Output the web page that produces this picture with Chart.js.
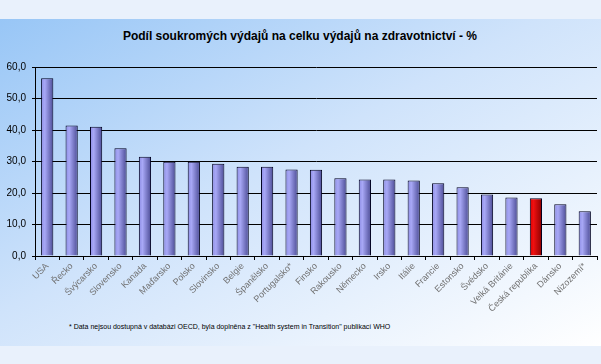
<!DOCTYPE html>
<html>
<head>
<meta charset="utf-8">
<script src="https://cdn.jsdelivr.net/npm/chart.js@4"></script>
<style>
  body { margin: 0; width: 601px; height: 364px; background: #e9f1fc; overflow: hidden; font-family: "Liberation Sans", Arial, sans-serif; }
  #panel { position: absolute; left: 0; top: 19px; width: 601px; height: 327px;
           background: linear-gradient(to bottom right, #98c6f6 0%, #cfe3fb 45%, #ffffff 100%); }
  #title { position: absolute; left: 0; width: 600px; top: 29px; text-align: center; font-weight: bold; font-size: 12px; color: #000; }
  #note { position: absolute; left: 69px; top: 323px; font-size: 7px; color: #000; white-space: nowrap; }
  #wrap { position: absolute; left: 0; top: 0; width: 601px; height: 364px; }
</style>
</head>
<body>
<div id="panel"></div>
<div id="title">Podíl soukromých výdajů na celku výdajů na zdravotnictví - %</div>
<div id="note">* Data nejsou dostupná v databázi OECD, byla doplněna z "Health system in Transition" publikací WHO</div>
<div id="wrap"><canvas id="myChart" width="601" height="364"></canvas></div>
<script>
// data
var countries = ['USA', 'Řecko', 'Švýcarsko', 'Slovensko', 'Kanada', 'Maďarsko', 'Polsko', 'Slovinsko',
    'Belgie', 'Španělsko', 'Portugalsko*', 'Finsko', 'Rakousko', 'Německo', 'Irsko', 'Itálie', 'Francie',
    'Estonsko', 'Švédsko', 'Velká Británie', 'Česká republika', 'Dánsko', 'Nizozemí*'];
var privateShare = [56.4, 41.4, 41.0, 34.2, 31.5, 29.9, 29.9, 29.3, 28.3, 28.3, 27.5, 27.4,
    24.7, 24.3, 24.3, 24.0, 23.1, 21.8, 19.5, 18.6, 18.3, 16.4, 14.2];
var highlight = 'Česká republika';
var yTicks = [0, 10, 20, 30, 40, 50, 60];

var barPct = 0.5;

function barFill(context) {
    var chart = context.chart;
    var xs = chart.scales.x;
    if (!xs || !chart.chartArea) return '#9090e0';
    var cx = xs.getPixelForValue(context.dataIndex);
    var half = (xs.width / countries.length) * barPct / 2;
    var g = chart.ctx.createLinearGradient(cx - half, 0, cx + half, 0);
    if (countries[context.dataIndex] === highlight) {
        g.addColorStop(0, '#d80000');
        g.addColorStop(0.3, '#f01010');
        g.addColorStop(1, '#8a0000');
    } else {
        g.addColorStop(0, '#8c8ce4');
        g.addColorStop(0.3, '#a8a8f6');
        g.addColorStop(1, '#4c4c96');
    }
    return g;
}

var ctx = document.getElementById('myChart').getContext('2d');
var myChart = new Chart(ctx, {
    type: 'bar',
    data: {
        labels: countries,
        datasets: [{
            data: privateShare,
            backgroundColor: barFill,
            borderColor: '#000020',
            borderWidth: 1,
            borderSkipped: 'bottom',
            categoryPercentage: 1,
            barPercentage: barPct
        }]
    },
    options: {
        responsive: false,
        animation: false,
        events: [],
        layout: { padding: { top: 67, right: 4, left: 0, bottom: 0 } },
        plugins: { legend: { display: false }, title: { display: false }, tooltip: { enabled: false } },
        scales: {
            y: {
                min: 0, max: 60,
                afterFit: function (s) { s.width = 35; },
                afterBuildTicks: function (s) { s.ticks = yTicks.map(function (v) { return { value: v }; }); },
                border: { color: '#000', width: 1 },
                grid: { color: '#000', lineWidth: 1, tickLength: 3 },
                ticks: {
                    color: '#000', padding: 6,
                    font: { family: 'Liberation Sans', size: 10 },
                    callback: function (v) { return v.toFixed(1).replace('.', ','); }
                }
            },
            x: {
                afterFit: function (s) { s.height = 108; },
                border: { color: '#000', width: 1 },
                grid: { drawOnChartArea: false, color: '#000', tickLength: 4, offset: true },
                ticks: {
                    color: '#707070', minRotation: 45, maxRotation: 45, autoSkip: false, padding: 1,
                    font: { family: 'Liberation Sans', size: 9 }
                }
            }
        }
    }
});
</script>
</body>
</html>
